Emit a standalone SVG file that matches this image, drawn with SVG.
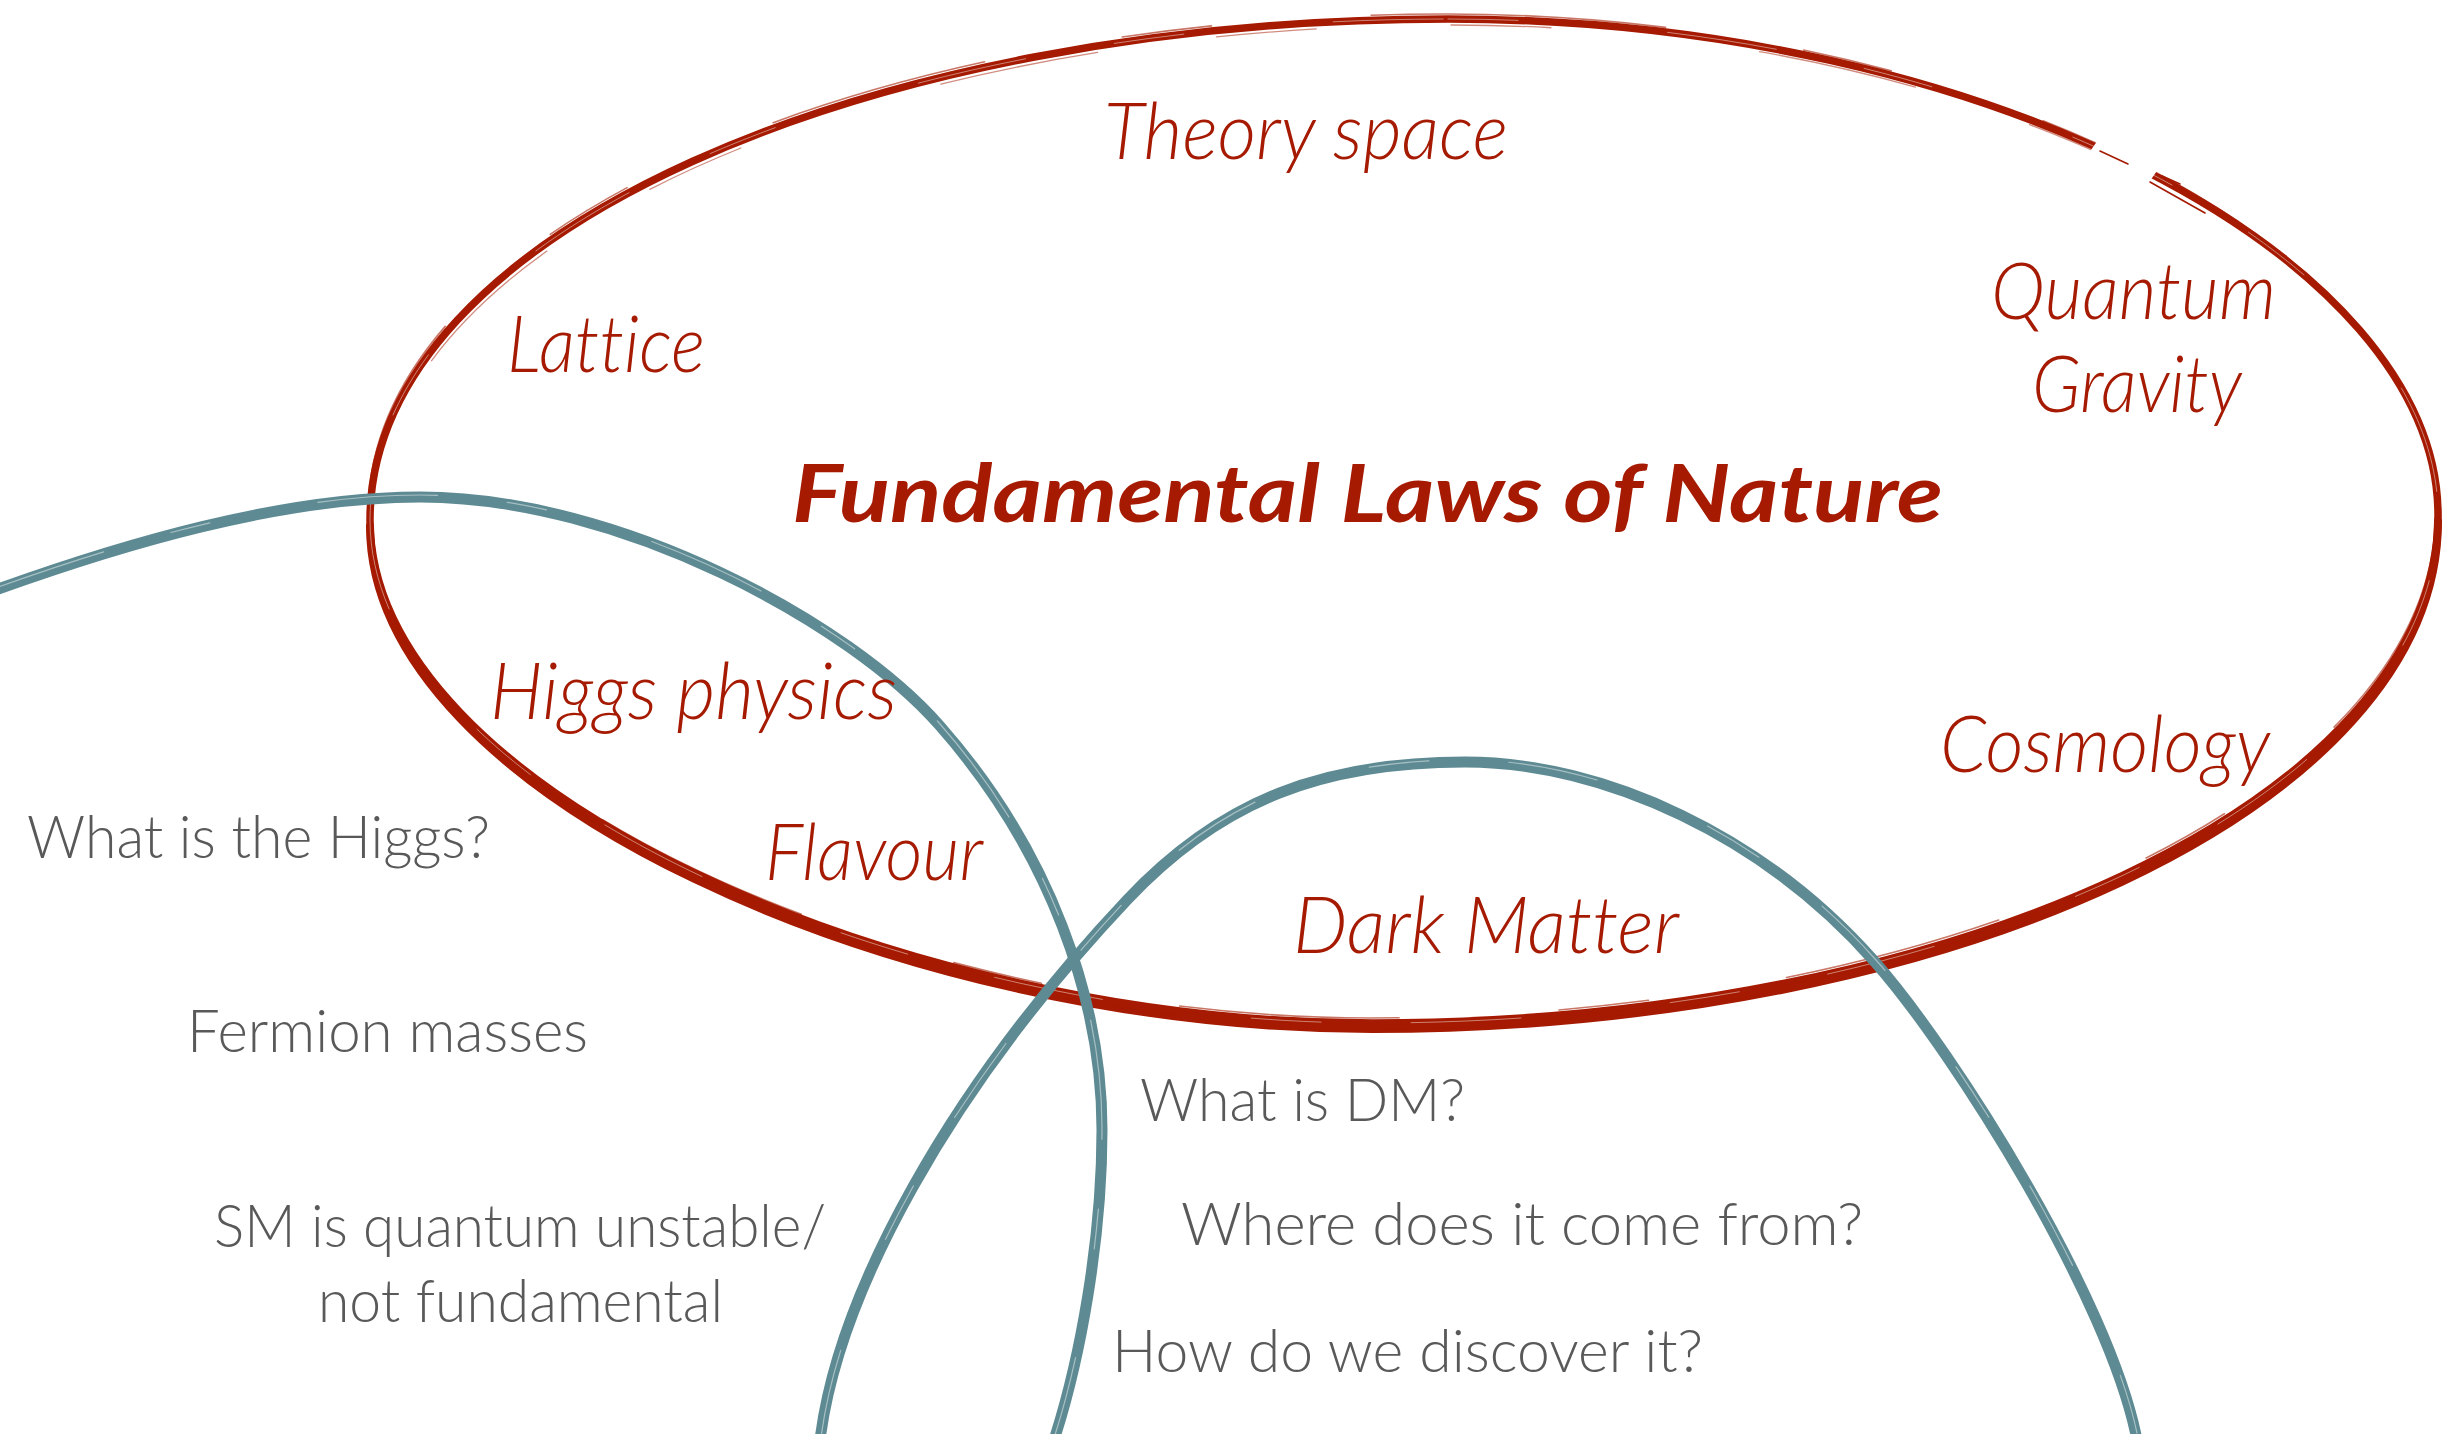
<svg xmlns="http://www.w3.org/2000/svg" width="2459" height="1434" viewBox="0 0 2459 1434">
<style>
  .red { fill: none; stroke: #a51a00; stroke-linecap: round; stroke-linejoin: round; }
  .blue { fill: none; stroke: #5e8b93; stroke-linecap: round; stroke-linejoin: round; }
  .streak { fill: none; stroke: #ffffff; stroke-linecap: round; }
  text { font-variant-ligatures: none; font-feature-settings: "liga" 0, "clig" 0; }
  .lbl { font-family: Lato, "Open Sans", "Noto Sans", sans-serif; font-style: italic; font-weight: 300; font-size: 78px; fill: #a51a00; }
  .title { font-family: Lato, "Open Sans", "Noto Sans", sans-serif; font-style: italic; font-weight: 700; font-size: 80px; fill: #a51a00; }
  .q { font-family: Lato, "Open Sans", "Noto Sans", sans-serif; font-weight: 300; font-size: 60px; fill: #595959; }
</style>
<defs>
  <path id="loop" d="M 1448,19 C 1990,19 2438,260 2438,515 C 2438,800 1950,1023 1372,1023 C 900,1023 370,790 370,520 C 370,232 870,19 1448,19 Z"/>
  <path id="loopBottom" d="M 2438,515 C 2438,800 1950,1023 1372,1023 C 900,1023 370,790 370,520"/>
  <path id="arcHiggs" d="M -10,592 C 120,545 280,497 420,497 C 620,497 850,623 940,726 C 1050,851 1102,1000 1102,1130 C 1102,1240 1080,1360 1054,1440"/>
  <path id="arcDM" d="M 820,1440 C 838,1295 947,1091 1127,900 C 1222,799 1325,762 1465,762 C 1605,762 1765,837 1875,962 C 1955,1053 2110,1300 2137,1440"/>
  <mask id="gap" maskUnits="userSpaceOnUse" x="0" y="0" width="2459" height="1434">
    <rect x="0" y="0" width="2459" height="1434" fill="#fff"/>
    <line x1="2098" y1="140" x2="2152" y2="178" stroke="#000" stroke-width="36"/>
  </mask>
</defs>
<rect x="0" y="0" width="2459" height="1434" fill="#ffffff"/>

<g id="fundamental-laws">
  <g mask="url(#gap)">
    <use href="#loop" class="red" stroke-width="7.5"/>
    <use href="#loopBottom" class="red" stroke-width="8" transform="translate(0,6)"/>
    <use href="#loop" class="red" stroke-width="1.6" opacity="0.6" stroke-dasharray="220 140 90 160" transform="translate(-2,-5)"/>
    <use href="#loop" class="red" stroke-width="1.3" opacity="0.5" stroke-dasharray="100 210 160 120" transform="translate(3,6)"/>
  </g>
  <use href="#loop" class="streak" stroke-width="1" opacity="0.45" stroke-dasharray="70 150 110 90"/>
  <path class="red" stroke-width="1.6" d="M 2100,151 L 2128,164 M 2150,182 L 2205,213 M 2162,176 L 2180,184"/>
</g>

<g id="higgs-region">
  <use href="#arcHiggs" class="blue" stroke-width="11"/>
  <use href="#arcHiggs" class="streak" stroke-width="1.2" opacity="0.45" stroke-dasharray="120 70 40 110" transform="translate(0,-2)"/>
</g>

<g id="dm-region">
  <use href="#arcDM" class="blue" stroke-width="11"/>
  <use href="#arcDM" class="streak" stroke-width="1.2" opacity="0.45" stroke-dasharray="90 120 60 80" transform="translate(1,-2)"/>
</g>

<g id="labels-red">
  <text id="theory-space" class="lbl" x="1104" y="159" textLength="404" lengthAdjust="spacingAndGlyphs">Theory space</text>
  <text id="lattice" class="lbl" x="507" y="372" textLength="198" lengthAdjust="spacingAndGlyphs">Lattice</text>
  <text id="quantum" class="lbl" x="1991" y="319" textLength="285" lengthAdjust="spacingAndGlyphs">Quantum</text>
  <text id="gravity" class="lbl" x="2032" y="412" textLength="210" lengthAdjust="spacingAndGlyphs">Gravity</text>
  <text id="title" class="title" x="792" y="522" textLength="1151" lengthAdjust="spacingAndGlyphs">Fundamental Laws of Nature</text>
  <text id="higgs-physics" class="lbl" x="490" y="719" textLength="407" lengthAdjust="spacingAndGlyphs">Higgs physics</text>
  <text id="flavour" class="lbl" x="765" y="880" textLength="218" lengthAdjust="spacingAndGlyphs">Flavour</text>
  <text id="cosmology" class="lbl" x="1940" y="772" textLength="330" lengthAdjust="spacingAndGlyphs">Cosmology</text>
  <text id="dark-matter" class="lbl" x="1293" y="953" textLength="386" lengthAdjust="spacingAndGlyphs">Dark Matter</text>
</g>

<g id="labels-grey">
  <text class="q" x="27" y="858" textLength="463" lengthAdjust="spacingAndGlyphs">What is the Higgs?</text>
  <text class="q" x="187" y="1052" textLength="401" lengthAdjust="spacingAndGlyphs">Fermion masses</text>
  <text class="q" x="214" y="1247" textLength="612" lengthAdjust="spacingAndGlyphs">SM is quantum unstable/</text>
  <text class="q" x="318" y="1322" textLength="405" lengthAdjust="spacingAndGlyphs">not fundamental</text>
  <text class="q" x="1140" y="1121" textLength="325" lengthAdjust="spacingAndGlyphs">What is DM?</text>
  <text class="q" x="1181" y="1245" textLength="682" lengthAdjust="spacingAndGlyphs">Where does it come from?</text>
  <text class="q" x="1112" y="1372" textLength="591" lengthAdjust="spacingAndGlyphs">How do we discover it?</text>
</g>
</svg>
